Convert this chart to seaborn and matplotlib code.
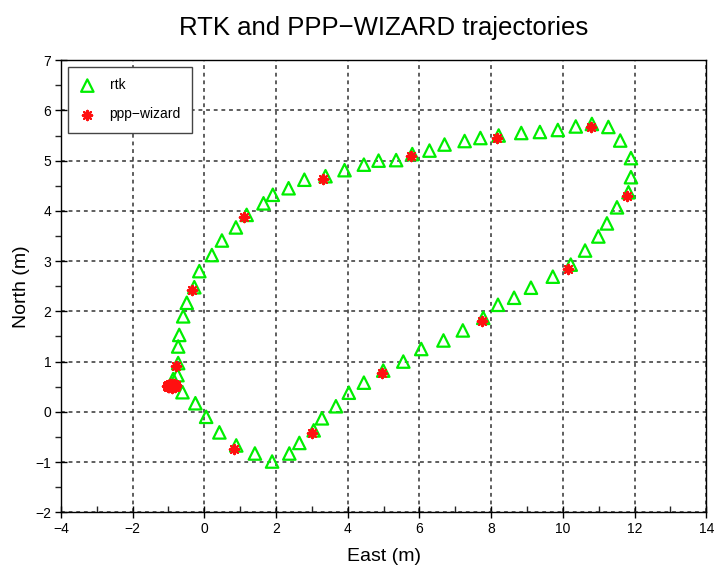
import numpy as np
import pandas as pd
import matplotlib
matplotlib.use('Agg')
import matplotlib.pyplot as plt
import seaborn as sns

# rtk trajectory (East, North) in metres
rtk_east = [-0.87, -0.75, -0.73, -0.73, -0.70, -0.59, -0.49, -0.28, -0.14, 0.21,
            0.49, 0.88, 1.18, 1.65, 1.91, 2.35, 2.79, 3.38, 3.91, 4.45,
            4.86, 5.35, 5.80, 6.28, 6.70, 7.26, 7.70, 8.21, 8.84, 9.36,
            9.86, 10.36, 10.81, 11.27, 11.60, 11.90, 11.90, 11.83, 11.51, 11.23,
            10.99, 10.62, 10.22, 9.72, 9.11, 8.64, 8.19, 7.78, 7.21, 6.67,
            6.05, 5.55, 4.99, 4.45, 4.03, 3.67, 3.28, 3.05, 2.65, 2.37,
            1.89, 1.41, 0.89, 0.42, 0.05, -0.25, -0.61]
rtk_north = [0.65, 0.73, 0.97, 1.30, 1.53, 1.90, 2.17, 2.48, 2.80, 3.12,
             3.41, 3.67, 3.92, 4.15, 4.32, 4.45, 4.62, 4.69, 4.81, 4.92,
             5.00, 5.01, 5.13, 5.20, 5.32, 5.39, 5.45, 5.50, 5.55, 5.57,
             5.61, 5.68, 5.73, 5.67, 5.40, 5.05, 4.67, 4.37, 4.07, 3.75,
             3.49, 3.21, 2.93, 2.69, 2.47, 2.27, 2.13, 1.87, 1.62, 1.42,
             1.25, 1.00, 0.82, 0.58, 0.38, 0.11, -0.13, -0.37, -0.62, -0.83,
             -0.99, -0.83, -0.67, -0.41, -0.10, 0.17, 0.39]

# ppp-wizard solutions (cluster at the start, then sparse fixes)
ppp_east = [-1.05, -1.01, -0.98, -0.95, -0.92, -0.89, -0.86, -0.83, -0.80, -0.78,
            -1.02, -0.96, -0.90, -0.84,
            -0.80, -0.35, 1.12, 3.32, 5.77, 8.15, 10.78, 11.79, 10.15, 7.74,
            4.95, 3.00, 0.82]
ppp_north = [0.52, 0.54, 0.50, 0.53, 0.55, 0.51, 0.53, 0.50, 0.54, 0.52,
             0.49, 0.56, 0.48, 0.56,
             0.91, 2.43, 3.87, 4.64, 5.09, 5.45, 5.67, 4.30, 2.85, 1.80,
             0.77, -0.42, -0.75]

rtk = pd.DataFrame({'East': rtk_east, 'North': rtk_north})
ppp = pd.DataFrame({'East': ppp_east, 'North': ppp_north})

sns.set_style('white')
plt.rcParams['font.family'] = ['Liberation Sans', 'DejaVu Sans']
plt.rcParams['text.color'] = 'black'
plt.rcParams['axes.labelcolor'] = 'black'

fig = plt.figure(figsize=(7.17, 5.73), dpi=100)
ax = fig.add_axes([0.085, 0.106, 0.9, 0.789])

sns.scatterplot(data=rtk, x='East', y='North', ax=ax, marker='^', s=80,
                facecolors='none', edgecolor='#00ee00', linewidth=1.6,
                label='rtk', zorder=3)
sns.scatterplot(data=ppp, x='East', y='North', ax=ax, marker=(8, 2, 0), s=45,
                color='#ff1010', edgecolor='#ff1010', linewidth=1.6,
                label='ppp\u2212wizard', zorder=4)

ax.set_xlim(-4, 14)
ax.set_ylim(-2, 7)
ax.set_xticks(np.arange(-4, 15, 2))
ax.set_yticks(np.arange(-2, 8, 1))
ax.set_xticks(np.arange(-4, 14.1, 1), minor=True)
ax.set_yticks(np.arange(-2, 7.1, 0.5), minor=True)
ax.grid(True, which='major', color='#333333', linestyle=(0, (2.5, 2.5)), linewidth=1.1)
ax.tick_params(which='both', bottom=True, left=True, top=False, right=False)
ax.tick_params(which='major', direction='inout', length=8, width=1, labelsize=10,
               colors='black', pad=3)
ax.tick_params(axis='x', which='minor', direction='in', length=4, width=1)
ax.tick_params(axis='y', which='minor', direction='out', length=4, width=1)
for sp in ax.spines.values():
    sp.set_color('black')
    sp.set_linewidth(1)

ax.set_xlabel('East (m)', fontsize=14, labelpad=9)
ax.set_ylabel('North (m)', fontsize=14, labelpad=4)
ax.set_title('RTK and PPP\u2212WIZARD trajectories', fontsize=18.5, pad=18, color='black')

leg = ax.legend(loc='upper left', fontsize=10, frameon=True, fancybox=False,
                borderpad=0.8, labelspacing=1.1, handlelength=1.2, handletextpad=1.0,
                borderaxespad=0.5, edgecolor='#444444', framealpha=1)
leg.get_frame().set_linewidth(1)

fig.savefig('out.png', dpi=100)
